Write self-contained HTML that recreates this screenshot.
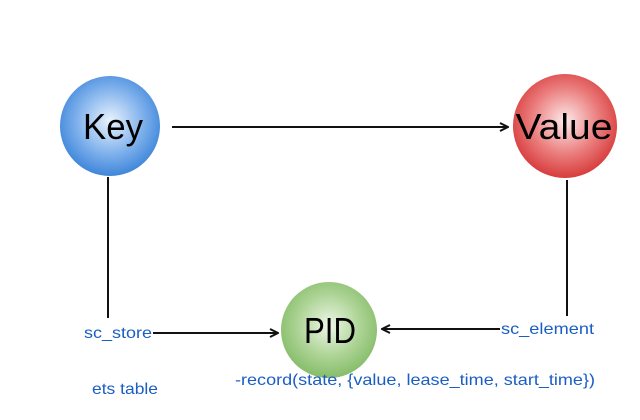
<!DOCTYPE html>
<html><head><style>body{margin:0;background:#fff}</style></head><body>
<svg width="640" height="420" xmlns="http://www.w3.org/2000/svg" style="display:block">
<defs>
<radialGradient id="b" cx="50%" cy="45%" r="55%"><stop offset="0" stop-color="#eaf3fd"/><stop offset="0.6" stop-color="#7fb1ec"/><stop offset="1" stop-color="#3f86da"/></radialGradient>
<radialGradient id="r" cx="50%" cy="45%" r="55%"><stop offset="0" stop-color="#fdeaea"/><stop offset="0.6" stop-color="#ea7b7b"/><stop offset="1" stop-color="#d83c3c"/></radialGradient>
<radialGradient id="g" cx="50%" cy="45%" r="55%"><stop offset="0" stop-color="#eef7e8"/><stop offset="0.6" stop-color="#acd394"/><stop offset="1" stop-color="#86bd6a"/></radialGradient>
<marker id="a" markerWidth="10" markerHeight="10" refX="9" refY="5" orient="auto" markerUnits="userSpaceOnUse"><path d="M1,1 L9,5 L1,9" fill="none" stroke="#111" stroke-width="2"/></marker>
</defs>
<g stroke="#111" stroke-width="2" fill="none">
<line x1="172" y1="127" x2="508" y2="127" marker-end="url(#a)"/>
<line x1="108" y1="177" x2="108" y2="318"/>
<line x1="567" y1="180" x2="567" y2="316"/>
<line x1="153" y1="333" x2="278" y2="333" marker-end="url(#a)"/>
<line x1="500" y1="329" x2="382" y2="329" marker-end="url(#a)"/>
</g>
<circle cx="110" cy="126" r="50" fill="url(#b)"/>
<circle cx="565" cy="126" r="52" fill="url(#r)"/>
<circle cx="329" cy="330" r="48" fill="url(#g)"/>
<g font-family="Liberation Sans, sans-serif" text-anchor="middle" fill="#000" font-size="36">
<text x="113" y="139" textLength="60" lengthAdjust="spacingAndGlyphs">Key</text>
<text x="564" y="139" textLength="97" lengthAdjust="spacingAndGlyphs">Value</text>
<text x="330" y="343" textLength="52" lengthAdjust="spacingAndGlyphs">PID</text>
</g>
<g font-family="Liberation Sans, sans-serif" fill="#1a5ec4" font-size="16">
<text x="84" y="338" textLength="68" lengthAdjust="spacingAndGlyphs">sc_store</text>
<text x="501" y="334" textLength="93" lengthAdjust="spacingAndGlyphs">sc_element</text>
<text x="92" y="394" textLength="66" lengthAdjust="spacingAndGlyphs">ets table</text>
<text x="235" y="385" textLength="360" lengthAdjust="spacingAndGlyphs">-record(state, {value, lease_time, start_time})</text>
</g>
</svg>
</body></html>
